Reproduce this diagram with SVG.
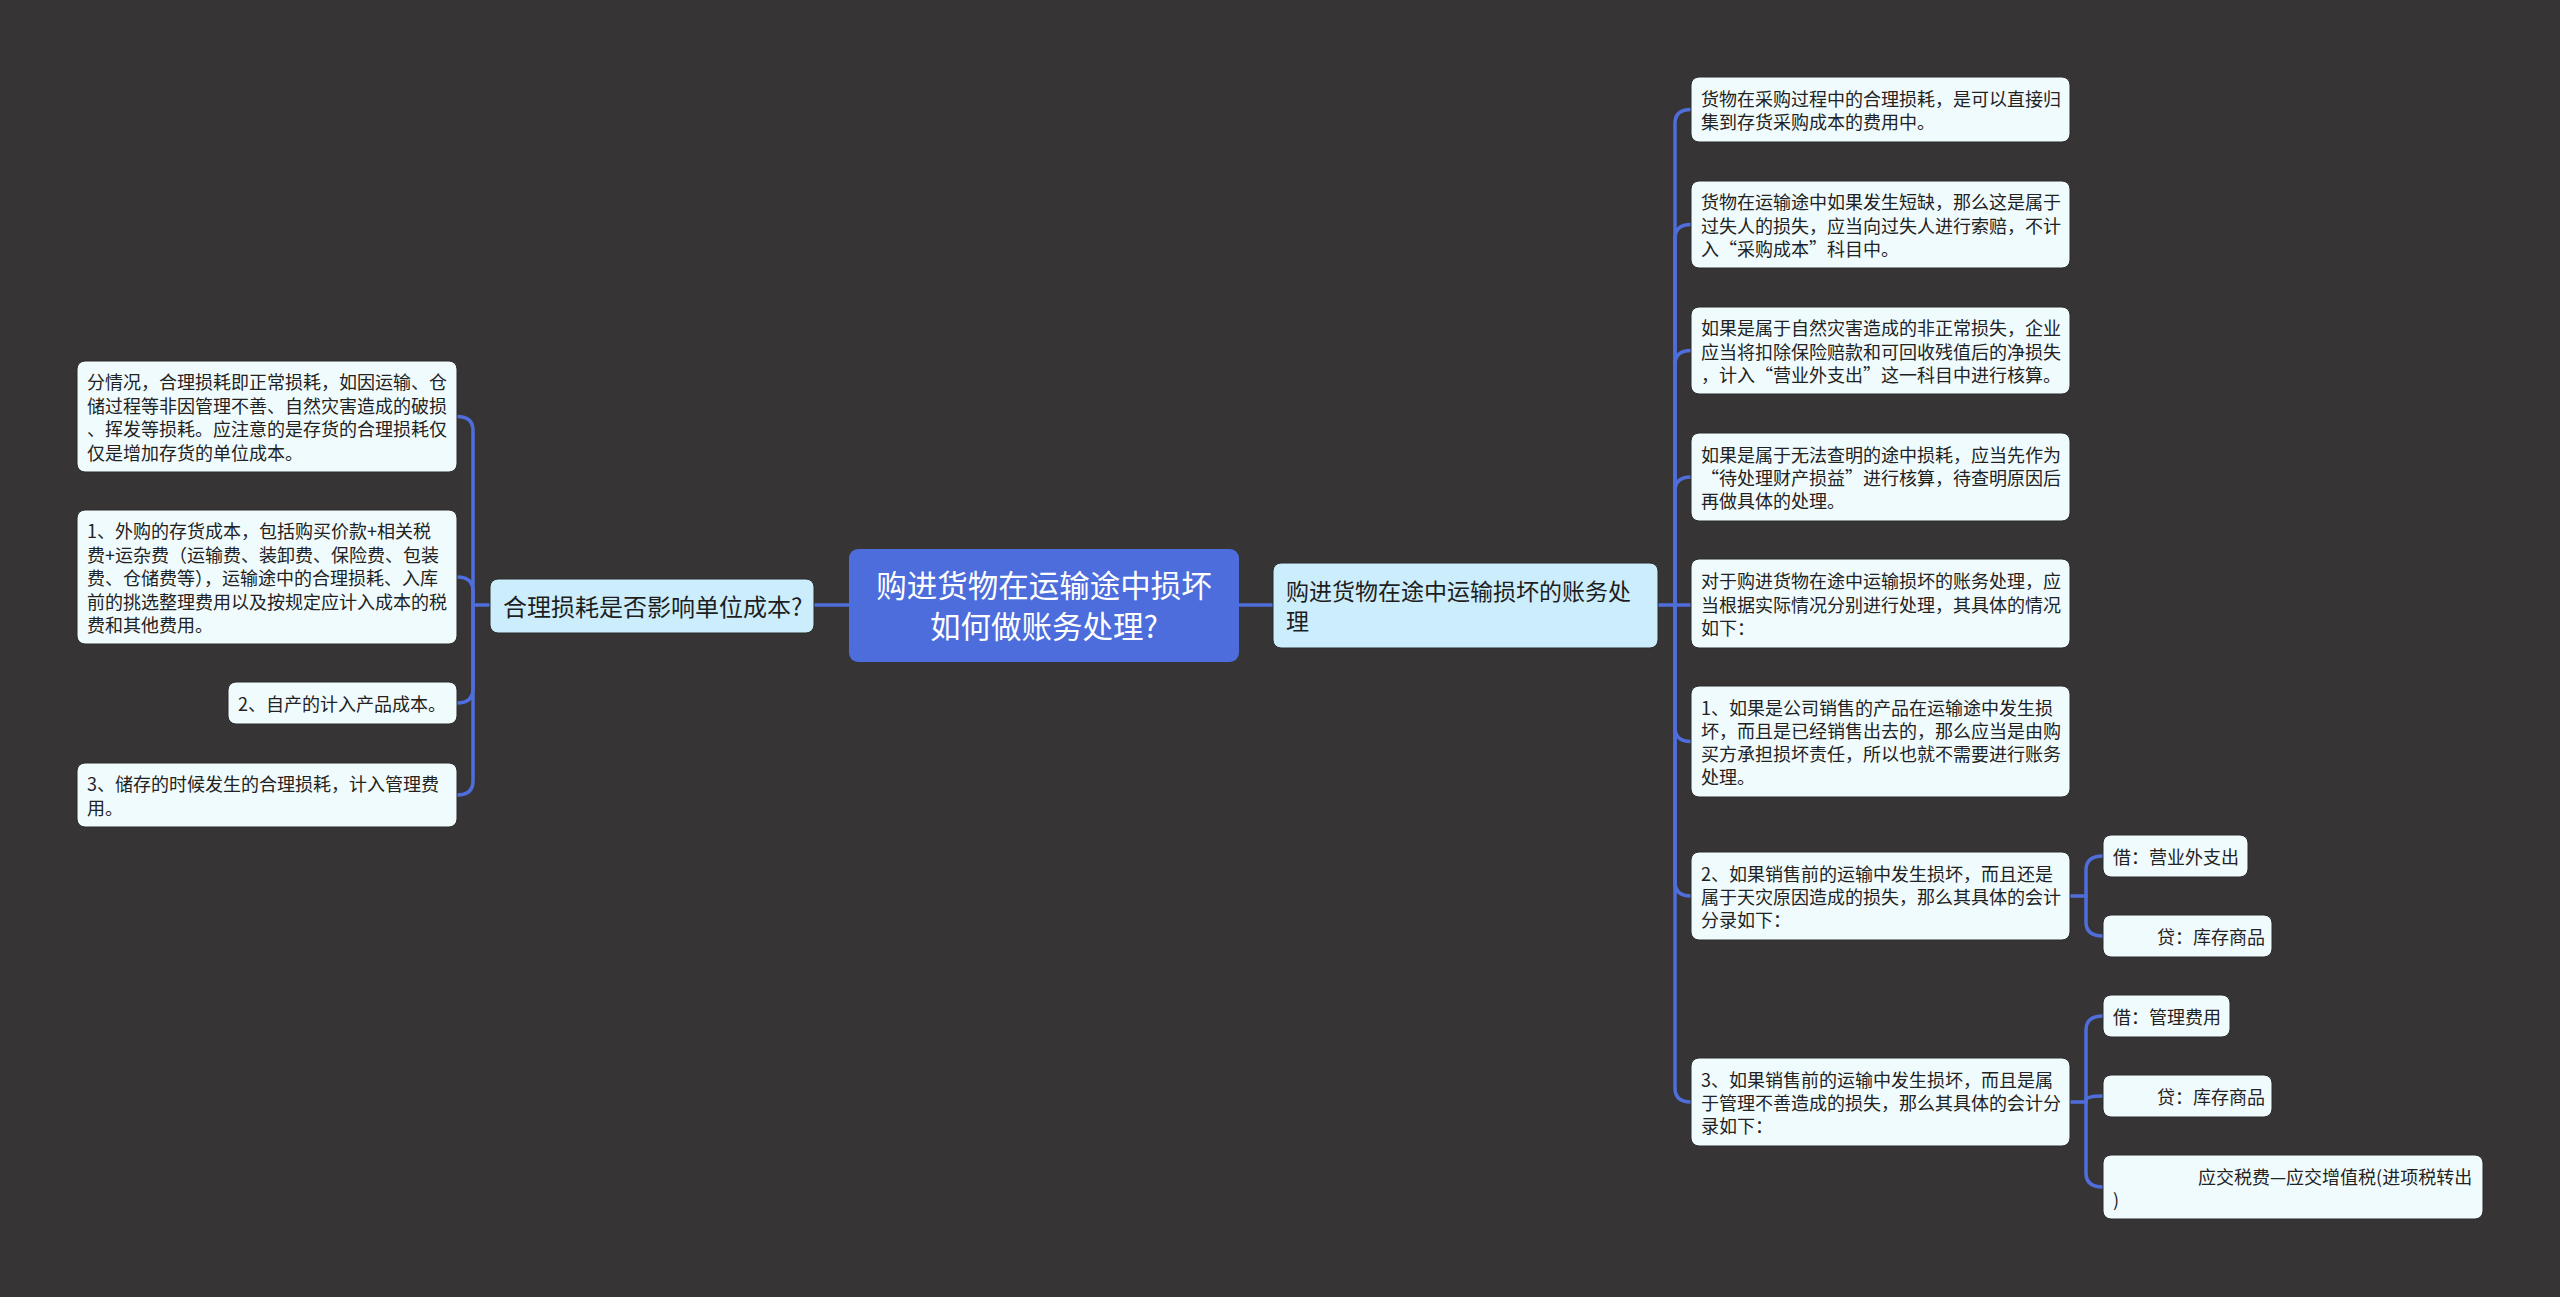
<svg xmlns="http://www.w3.org/2000/svg" width="2560" height="1297" viewBox="0 0 2560 1297">
<style>
text{font-family:"Noto Sans CJK SC","Noto Sans",sans-serif;dominant-baseline:central}
.root rect{fill:#4c6ddb}
.root text{fill:#ffffff;font-size:30.5px}
.sub rect{fill:#ccedfc;stroke:#2a2a2a;stroke-width:1}
.sub text{fill:#1e1e1e}
.leaf rect{fill:#f0fbfd;stroke:#2a2a2a;stroke-width:1}
.leaf text{fill:#222222;font-size:18px}
.conn path{fill:none;stroke:#4f6edb;stroke-width:3.5;stroke-linecap:round}
</style>
<rect width="2560" height="1297" fill="#363435"/>
<g class="conn">
<path d="M849,605 H813"/>
<path d="M1239,605 H1273"/>
<path d="M490,605 H473"/>
<path d="M473,605 V430.5 Q473,416.5 457,416.5"/>
<path d="M473,605 V591 Q473,577 457,577"/>
<path d="M473,605 V689 Q473,703 457,703"/>
<path d="M473,605 V781 Q473,795 457,795"/>
<path d="M1658,605 H1675"/>
<path d="M1675,605 V123.5 Q1675,109.5 1691,109.5"/>
<path d="M1675,605 V238.5 Q1675,224.5 1691,224.5"/>
<path d="M1675,605 V364.5 Q1675,350.5 1691,350.5"/>
<path d="M1675,605 V491 Q1675,477 1691,477"/>
<path d="M1675,605 H1691"/>
<path d="M1675,605 V727.5 Q1675,741.5 1691,741.5"/>
<path d="M1675,605 V882 Q1675,896 1691,896"/>
<path d="M1675,605 V1088 Q1675,1102 1691,1102"/>
<path d="M2070,896 H2086"/>
<path d="M2086,896 V870 Q2086,856 2103,856"/>
<path d="M2086,896 V922 Q2086,936 2103,936"/>
<path d="M2070,1102 H2086"/>
<path d="M2086,1102 V1030 Q2086,1016 2103,1016"/>
<path d="M2086,1102 V1100 Q2086,1096 2103,1096"/>
<path d="M2086,1102 V1173 Q2086,1187 2103,1187"/>
</g>
<g id="root" class="root">
<rect x="849" y="549" width="390" height="113" rx="9"/>
<text x="1044" y="584" text-anchor="middle">购进货物在运输途中损坏</text>
<text x="1044" y="625" text-anchor="middle">如何做账务处理?</text>
</g>
<g id="sub-left" class="sub">
<rect x="490" y="579" width="324" height="54" rx="8"/>
<text x="503" y="605" font-size="24">合理损耗是否影响单位成本?</text>
</g>
<g id="sub-right" class="sub">
<rect x="1273" y="563" width="385" height="85" rx="8"/>
<text x="1286" y="590" font-size="23">购进货物在途中运输损坏的账务处</text>
<text x="1286" y="620" font-size="23">理</text>
</g>
<g id="l1" class="leaf">
<rect x="77" y="361" width="380" height="111" rx="8"/>
<text x="87" y="381.3">分情况，合理损耗即正常损耗，如因运输、仓</text>
<text x="87" y="404.8">储过程等非因管理不善、自然灾害造成的破损</text>
<text x="87" y="428.3">、挥发等损耗。应注意的是存货的合理损耗仅</text>
<text x="87" y="451.8">仅是增加存货的单位成本。</text>
</g>
<g id="l2" class="leaf">
<rect x="77" y="510" width="380" height="134" rx="8"/>
<text x="87" y="530">1、外购的存货成本，包括购买价款+相关税</text>
<text x="87" y="553.5">费+运杂费（运输费、装卸费、保险费、包装</text>
<text x="87" y="577">费、仓储费等），运输途中的合理损耗、入库</text>
<text x="87" y="600.5">前的挑选整理费用以及按规定应计入成本的税</text>
<text x="87" y="624">费和其他费用。</text>
</g>
<g id="l3" class="leaf">
<rect x="228" y="682" width="229" height="42" rx="8"/>
<text x="238" y="703">2、自产的计入产品成本。</text>
</g>
<g id="l4" class="leaf">
<rect x="77" y="763" width="380" height="64" rx="8"/>
<text x="87" y="783.3">3、储存的时候发生的合理损耗，计入管理费</text>
<text x="87" y="806.8">用。</text>
</g>
<g id="r1" class="leaf">
<rect x="1691" y="77" width="379" height="65" rx="8"/>
<text x="1701" y="98">货物在采购过程中的合理损耗，是可以直接归</text>
<text x="1701" y="121.3">集到存货采购成本的费用中。</text>
</g>
<g id="r2" class="leaf">
<rect x="1691" y="181" width="379" height="87" rx="8"/>
<text x="1701" y="201.2">货物在运输途中如果发生短缺，那么这是属于</text>
<text x="1701" y="224.5">过失人的损失，应当向过失人进行索赔，不计</text>
<text x="1701" y="247.8">入“采购成本”科目中。</text>
</g>
<g id="r3" class="leaf">
<rect x="1691" y="307" width="379" height="87" rx="8"/>
<text x="1701" y="327.2">如果是属于自然灾害造成的非正常损失，企业</text>
<text x="1701" y="350.5">应当将扣除保险赔款和可回收残值后的净损失</text>
<text x="1701" y="373.8">，计入“营业外支出”这一科目中进行核算。</text>
</g>
<g id="r4" class="leaf">
<rect x="1691" y="433" width="379" height="88" rx="8"/>
<text x="1701" y="453.7">如果是属于无法查明的途中损耗，应当先作为</text>
<text x="1701" y="477">“待处理财产损益”进行核算，待查明原因后</text>
<text x="1701" y="500.3">再做具体的处理。</text>
</g>
<g id="r5" class="leaf">
<rect x="1691" y="559" width="379" height="89" rx="8"/>
<text x="1701" y="580.2">对于购进货物在途中运输损坏的账务处理，应</text>
<text x="1701" y="603.5">当根据实际情况分别进行处理，其具体的情况</text>
<text x="1701" y="626.8">如下：</text>
</g>
<g id="r6" class="leaf">
<rect x="1691" y="686" width="379" height="111" rx="8"/>
<text x="1701" y="706.5">1、如果是公司销售的产品在运输途中发生损</text>
<text x="1701" y="729.8">坏，而且是已经销售出去的，那么应当是由购</text>
<text x="1701" y="753.1">买方承担损坏责任，所以也就不需要进行账务</text>
<text x="1701" y="776.4">处理。</text>
</g>
<g id="r7" class="leaf">
<rect x="1691" y="852" width="379" height="88" rx="8"/>
<text x="1701" y="872.7">2、如果销售前的运输中发生损坏，而且还是</text>
<text x="1701" y="896">属于天灾原因造成的损失，那么其具体的会计</text>
<text x="1701" y="919.3">分录如下：</text>
</g>
<g id="r8" class="leaf">
<rect x="1691" y="1058" width="379" height="88" rx="8"/>
<text x="1701" y="1078.7">3、如果销售前的运输中发生损坏，而且是属</text>
<text x="1701" y="1102">于管理不善造成的损失，那么其具体的会计分</text>
<text x="1701" y="1125.3">录如下：</text>
</g>
<g id="r7a" class="leaf">
<rect x="2103" y="835" width="145" height="42" rx="8"/>
<text x="2113" y="856">借：营业外支出</text>
</g>
<g id="r7b" class="leaf">
<rect x="2103" y="915" width="169" height="42" rx="8"/>
<text x="2157" y="936">贷：库存商品</text>
</g>
<g id="r8a" class="leaf">
<rect x="2103" y="995" width="127" height="42" rx="8"/>
<text x="2113" y="1016">借：管理费用</text>
</g>
<g id="r8b" class="leaf">
<rect x="2103" y="1075" width="169" height="42" rx="8"/>
<text x="2157" y="1096">贷：库存商品</text>
</g>
<g id="r8c" class="leaf">
<rect x="2103" y="1155" width="380" height="64" rx="8"/>
<text x="2198" y="1176">应交税费—应交增值税(进项税转出</text>
<text x="2113" y="1199">)</text>
</g>
</svg>
